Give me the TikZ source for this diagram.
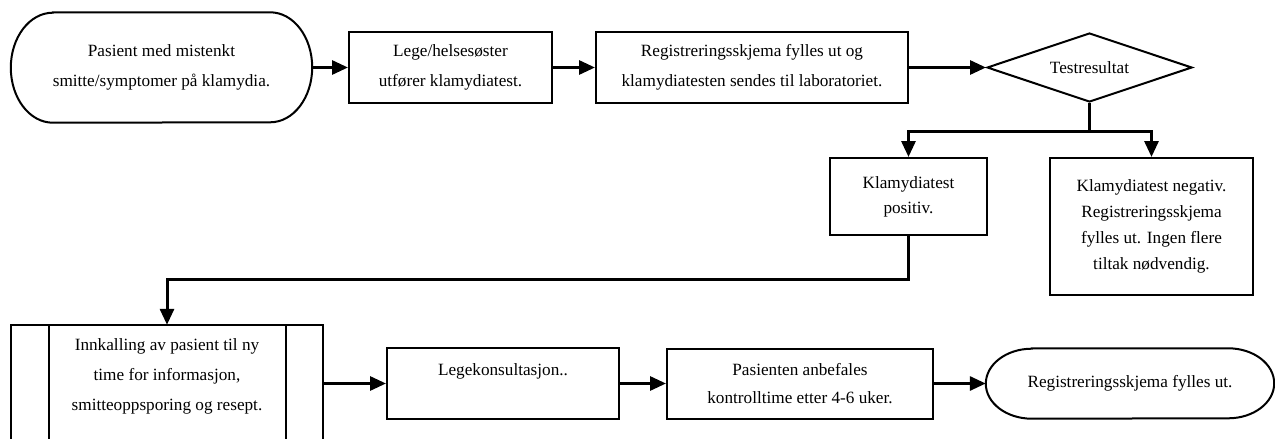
\documentclass[tikz,border=0pt]{standalone}
\usepackage{fontspec}
\setmainfont{Liberation Serif}
\usetikzlibrary{arrows.meta,shapes.geometric}
\tikzset{
  frame/.style={line width=2pt},
  txt/.style={align=center,inner sep=0pt,font=\fontsize{17.2}{30}\selectfont},
  box/.style={txt,draw,frame,rectangle},
  conn/.style={line width=3pt},
  arr/.style={conn,-{Triangle[length=16pt,width=14pt]}}
}
\newcommand\termframe[3]{%
  \draw[frame] ([xshift=#2]#1.north west) -- ([xshift=-#2]#1.north east)
    arc[start angle=90,end angle=-90,x radius=#2,y radius=#3]
    -- ([xshift=#2]#1.south west)
    arc[start angle=270,end angle=90,x radius=#2,y radius=#3] -- cycle;}
\begin{document}
\begin{tikzpicture}[x=1pt,y=-1pt]
   \useasboundingbox (0,0) rectangle (1275,439);
   \coordinate (bot) at (0,439);
   \node[txt,minimum width=301pt,minimum height=110pt] (start) at (161.5,67.5)
     {Pasient med mistenkt\\smitte/symptomer på klamydia.};
   \termframe{start}{42pt}{55pt}
   \node[box,minimum width=203pt,minimum height=71pt] (lege) at (450.5,67.5)
     {Lege/helsesøster\\utfører klamydiatest.};
   \node[box,minimum width=312pt,minimum height=71pt] (reg) at (752,67.5)
     {Registreringsskjema fylles ut og\\klamydiatesten sendes til laboratoriet.};
   \node[txt,draw,frame,diamond,aspect=3,minimum width=205pt,minimum height=69pt] (test) at (1089.5,67.5)
     {Testresultat};
   \node[box,minimum width=157pt,minimum height=77pt,font=\fontsize{17.2}{25}\selectfont] (pos) at (908.5,196.5)
     {Klamydiatest\\positiv.};
   \node[box,minimum width=203pt,minimum height=137pt,font=\fontsize{17.2}{26}\selectfont] (neg) at (1151.5,226.5)
     {Klamydiatest negativ.\\Registreringsskjema\\fylles ut. Ingen flere\\tiltak nødvendig.};
   \node[txt,minimum width=312pt,minimum height=102pt] (inn) at (167,376)
     {Innkalling av pasient til ny\\time for informasjon,\\smitteoppsporing og resept.};
   \draw[frame] (inn.north west |- bot) -- (inn.north west) -- (inn.north east) -- (inn.north east |- bot);
   \draw[frame] ([xshift=38pt]inn.north west) coordinate (innl) -- (innl |- bot);
   \draw[frame] ([xshift=-37pt]inn.north east) coordinate (innr) -- (innr |- bot);
   \node[box,minimum width=232pt,minimum height=71pt,font=\fontsize{17.2}{28}\selectfont] (kons) at (503,383.5)
     {Legekonsultasjon..\\\mbox{}};
   \node[box,minimum width=266pt,minimum height=70pt,font=\fontsize{17.2}{28}\selectfont] (kontroll) at (800,383.5)
     {Pasienten anbefales\\kontrolltime etter 4-6 uker.};
   \node[txt,minimum width=288pt,minimum height=70pt] (slutt) at (1130,383.5)
     {Registreringsskjema fylles ut.};
   \termframe{slutt}{46pt}{35pt}
   \draw[arr] (start) -- (lege);
   \draw[arr] (lege) -- (reg);
   \draw[arr] (reg) -- (test);
   \draw[conn] (test.south) -- ++(0,28) coordinate (fork);
   \draw[arr] (fork) -| (pos.north);
   \draw[arr] (fork) -| (neg.north);
   \draw[arr] (pos.south) -- ++(0,43) -| (inn.north);
   \draw[arr] (inn.east |- kons) -- (kons);
   \draw[arr] (kons) -- (kontroll);
   \draw[arr] (kontroll) -- (slutt);
  \end{tikzpicture}
\end{document}
